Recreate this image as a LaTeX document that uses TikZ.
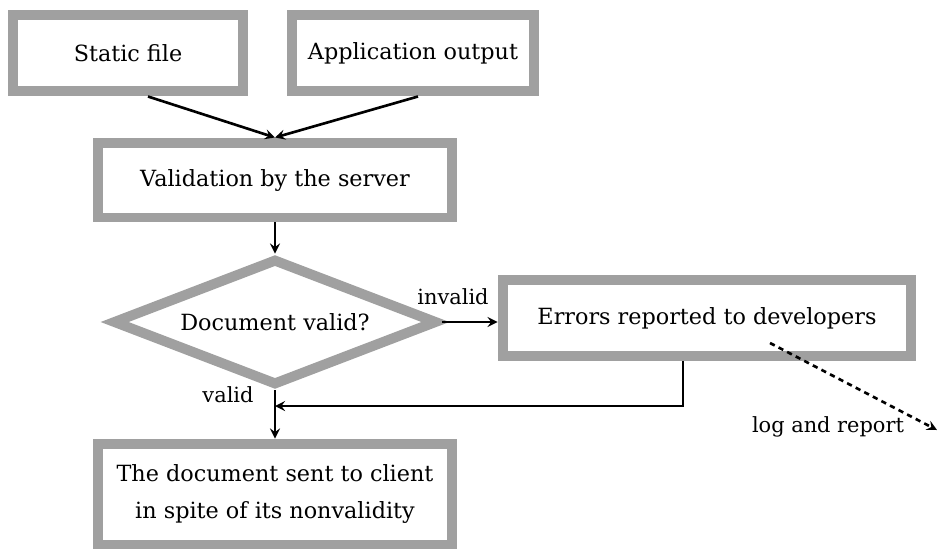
\documentclass[tikz,border=0pt]{standalone}
\usepackage{fontspec}
\setmainfont{DejaVu Serif}
\usepackage{tikz}
\usetikzlibrary{shapes.geometric}
\definecolor{boxgray}{RGB}{160,160,160}

\begin{document}
\begin{tikzpicture}[x=0.02cm,y=-0.02cm,>=stealth,
    box/.style={draw=boxgray,line width=0.2cm,fill=white,inner sep=0pt,
      font=\fontsize{12.7}{20.5}\selectfont,align=center},
    decide/.style={diamond,aspect=2.57,draw=boxgray,line width=0.2cm,fill=white,inner sep=0pt,
      minimum width=6.5cm,minimum height=2.54cm,font=\fontsize{12.7}{20}\selectfont},
    link/.style={->,line width=1.5pt},
    lbl/.style={font=\fontsize{11.9}{14}\selectfont,inner sep=0pt}]
          \useasboundingbox (0,0) rectangle (937,552);

          \node[box,minimum width=4.6cm,minimum height=1.54cm] (sf) at (128,53) {Static file};
          \node[box,minimum width=4.86cm,minimum height=1.54cm] (ao) at (413,53) {Application output};
          \node[box,minimum width=7.08cm,minimum height=1.5cm] (val) at (275,180) {Validation by the server};
          \node[decide] (doc) at (275,322) {Document valid?};
          \node[box,minimum width=8.18cm,minimum height=1.52cm] (err) at (707,318) {Errors reported to developers};
          \node[box,minimum width=7.08cm,minimum height=2.02cm] (sent) at (275,494)
              {The document sent to client\\in spite of its nonvalidity};

          \coordinate (merge) at (275,406);
          \coordinate (logend) at (937,430);

          \draw[link] ([xshift=0.4cm]sf.south) -- (val.north);
          \draw[link] ([xshift=0.1cm]ao.south) -- (val.north);
          \draw[link] (val.south) -- (doc.north);
          \draw[link] (doc.east) -- (doc.east -| err.west);
          \node[lbl] (inv) at (453,297) {invalid};
          \draw[link] (doc.south) -- (sent.north);
          \node[lbl] (vld) at (228,395) {valid};
          \draw[link] ([xshift=-0.48cm]err.south) |- (merge);
          \draw[link,dash pattern=on 3pt off 2.5pt] ([shift={(63,25)}]err.center) -- (logend);
          \node[lbl] (logr) at (828,427) {log and report};
        \end{tikzpicture}
\end{document}
